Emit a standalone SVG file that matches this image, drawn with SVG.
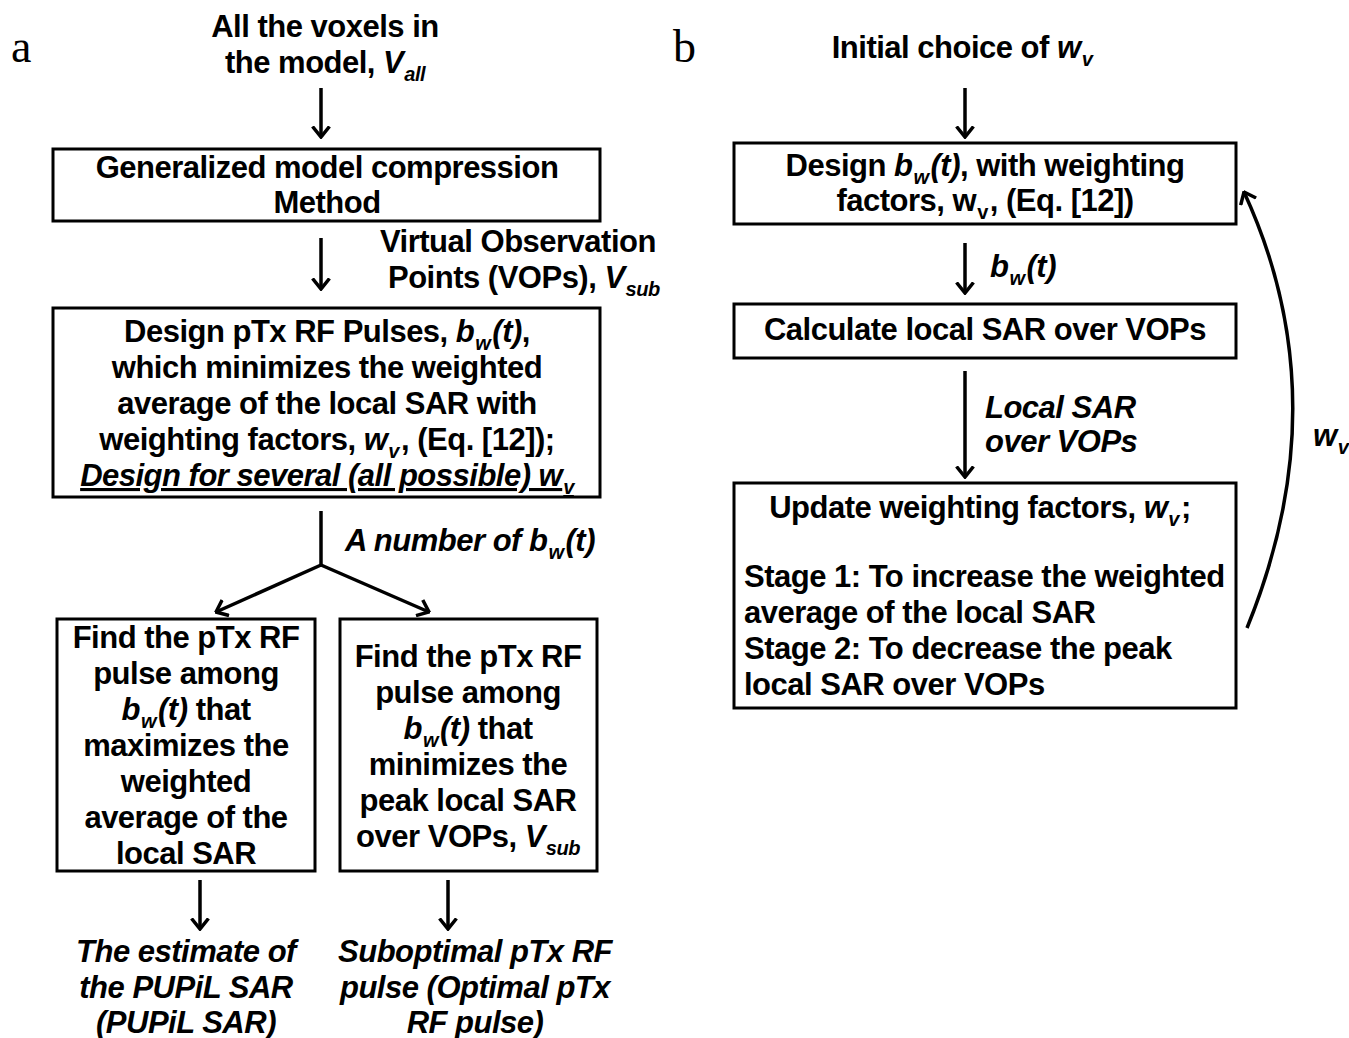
<svg xmlns="http://www.w3.org/2000/svg" width="1349" height="1038" viewBox="0 0 1349 1038">
<defs>
<style>
.t{font-family:"Liberation Sans",Arial,sans-serif;font-weight:bold;font-size:31px;letter-spacing:-0.5px;fill:#000;text-anchor:middle}
.l{text-anchor:start}
.i{font-style:italic}
.s{font-size:20px}
.box{fill:#fff;stroke:#000;stroke-width:3}
.c{fill:none;stroke:#000;stroke-width:3.5}
.p{font-family:"Liberation Serif","Times New Roman",serif;font-size:46px;fill:#000}
</style>
<marker id="ah" viewBox="0 0 13 20" refX="11.5" refY="10" markerWidth="13" markerHeight="20" orient="auto" markerUnits="userSpaceOnUse">
<path d="M1,1.5 L11.5,10 L1,18.5" fill="none" stroke="#000" stroke-width="3.5"/>
</marker>
</defs>
<rect width="1349" height="1038" fill="#fff"/>
<text class="p" x="11" y="62">a</text>
<text class="p" x="673" y="62">b</text>

<g id="connectors">
<line class="c" x1="321" y1="88" x2="321" y2="137" marker-end="url(#ah)"/>
<line class="c" x1="321" y1="238" x2="321" y2="289" marker-end="url(#ah)"/>
<polyline class="c" points="321,511 321,565"/>
<line class="c" x1="321" y1="565" x2="216" y2="612" marker-end="url(#ah)"/>
<line class="c" x1="321" y1="565" x2="429" y2="612" marker-end="url(#ah)"/>
<line class="c" x1="200" y1="880" x2="200" y2="929" marker-end="url(#ah)"/>
<line class="c" x1="448" y1="880" x2="448" y2="929" marker-end="url(#ah)"/>
<line class="c" x1="965" y1="88" x2="965" y2="137" marker-end="url(#ah)"/>
<line class="c" x1="965" y1="243" x2="965" y2="293" marker-end="url(#ah)"/>
<line class="c" x1="965" y1="371" x2="965" y2="477" marker-end="url(#ah)"/>
<path class="c" d="M1247,628 Q1340,400 1244,192" marker-end="url(#ah)"/>
<text class="t l" x="380" y="252">Virtual Observation</text>
<text class="t l" x="388" y="288">Points (VOPs), <tspan class="i">V<tspan class="s" dx="1" dy="8">sub</tspan></tspan></text>
<text class="t l i" x="345" y="551">A number of b<tspan class="s" dx="1" dy="8">w</tspan><tspan dx="2" dy="-8">(t)</tspan></text>
<text class="t l i" x="990" y="277">b<tspan class="s" dx="1" dy="8">w</tspan><tspan dx="2" dy="-8">(t)</tspan></text>
<text class="t l i" x="985" y="418">Local SAR</text>
<text class="t l i" x="985" y="452">over VOPs</text>
<text class="t l i" x="1313" y="446">w<tspan class="s" dx="1" dy="8">v</tspan></text>
</g>

<g id="start-a">
<text class="t" x="325" y="37">All the voxels in</text>
<text class="t" x="325" y="73">the model, <tspan class="i">V<tspan class="s" dx="1" dy="8">all</tspan></tspan></text>
</g>

<g id="compression">
<rect class="box" x="53" y="149" width="547" height="72"/>
<text class="t" x="327" y="178">Generalized model compression</text>
<text class="t" x="327" y="213">Method</text>
</g>

<g id="design-a">
<rect class="box" x="53" y="308" width="547" height="189"/>
<text class="t" x="327" y="342">Design pTx RF Pulses, <tspan class="i">b<tspan class="s" dx="1" dy="8">w</tspan><tspan dx="2" dy="-8">(t)</tspan></tspan>,</text>
<text class="t" x="327" y="378">which minimizes the weighted</text>
<text class="t" x="327" y="414">average of the local SAR with</text>
<text class="t" x="327" y="450">weighting factors, <tspan class="i">w<tspan class="s" dx="1" dy="8">v</tspan></tspan><tspan dx="2" dy="-8">, (Eq. [12]);</tspan></text>
<text class="t i" x="327" y="486" text-decoration="underline">Design for several (all possible) w<tspan class="s" dx="1" dy="8">v</tspan></text>
</g>

<g id="max-avg">
<rect class="box" x="57" y="619" width="258" height="252"/>
<text class="t" x="186" y="648">Find the pTx RF</text>
<text class="t" x="186" y="684">pulse among</text>
<text class="t" x="186" y="720"><tspan class="i">b<tspan class="s" dx="1" dy="8">w</tspan><tspan dx="2" dy="-8">(t)</tspan></tspan> that</text>
<text class="t" x="186" y="756">maximizes the</text>
<text class="t" x="186" y="792">weighted</text>
<text class="t" x="186" y="828">average of the</text>
<text class="t" x="186" y="864">local SAR</text>
</g>

<g id="min-peak">
<rect class="box" x="340" y="619" width="257" height="252"/>
<text class="t" x="468" y="667">Find the pTx RF</text>
<text class="t" x="468" y="703">pulse among</text>
<text class="t" x="468" y="739"><tspan class="i">b<tspan class="s" dx="1" dy="8">w</tspan><tspan dx="2" dy="-8">(t)</tspan></tspan> that</text>
<text class="t" x="468" y="775">minimizes the</text>
<text class="t" x="468" y="811">peak local SAR</text>
<text class="t" x="468" y="847">over VOPs, <tspan class="i">V<tspan class="s" dx="1" dy="8">sub</tspan></tspan></text>
</g>

<g id="pupil-sar">
<text class="t i" x="186" y="962">The estimate of</text>
<text class="t i" x="186" y="998">the PUPiL SAR</text>
<text class="t i" x="186" y="1033">(PUPiL SAR)</text>
</g>

<g id="suboptimal">
<text class="t i" x="475" y="962">Suboptimal pTx RF</text>
<text class="t i" x="475" y="998">pulse (Optimal pTx</text>
<text class="t i" x="475" y="1033">RF pulse)</text>
</g>

<g id="start-b">
<text class="t" x="962" y="58">Initial choice of <tspan class="i">w<tspan class="s" dx="1" dy="8">v</tspan></tspan></text>
</g>

<g id="design-b">
<rect class="box" x="734" y="143" width="502" height="81"/>
<text class="t" x="985" y="176">Design <tspan class="i">b<tspan class="s" dx="1" dy="8">w</tspan><tspan dx="2" dy="-8">(t)</tspan></tspan>, with weighting</text>
<text class="t" x="985" y="211">factors, w<tspan class="s" dx="1" dy="8">v</tspan><tspan dx="2" dy="-8">, (Eq. [12])</tspan></text>
</g>

<g id="calc-sar">
<rect class="box" x="734" y="304" width="502" height="54"/>
<text class="t" x="985" y="340">Calculate local SAR over VOPs</text>
</g>

<g id="update">
<rect class="box" x="734" y="483" width="502" height="225"/>
<text class="t" x="980" y="518">Update weighting factors, <tspan class="i">w<tspan class="s" dx="1" dy="8">v</tspan></tspan><tspan dx="2" dy="-8">;</tspan></text>
<text class="t l" x="744" y="587">Stage 1: To increase the weighted</text>
<text class="t l" x="744" y="623">average of the local SAR</text>
<text class="t l" x="744" y="659">Stage 2: To decrease the peak</text>
<text class="t l" x="744" y="695">local SAR over VOPs</text>
</g>
</svg>
